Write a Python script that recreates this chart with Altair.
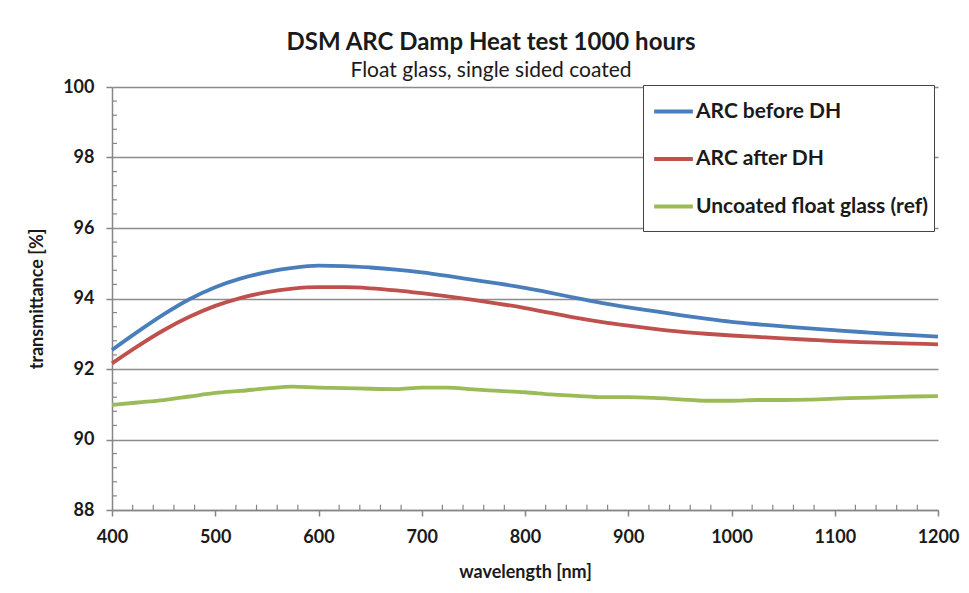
import altair as alt
import pandas as pd

wavelength = [400, 425, 450, 475, 500, 525, 550, 575, 600, 625, 650, 675, 700, 725, 750, 775,
              800, 825, 850, 875, 900, 925, 950, 975, 1000, 1025, 1050, 1075, 1100, 1125, 1150, 1175, 1200]

arc_before = [92.54, 93.06, 93.55, 93.98, 94.32, 94.57, 94.75, 94.87, 94.93, 94.92, 94.88, 94.82,
              94.74, 94.64, 94.53, 94.42, 94.30, 94.16, 94.01, 93.87, 93.75, 93.64, 93.53, 93.43,
              93.34, 93.27, 93.21, 93.15, 93.10, 93.05, 93.00, 92.96, 92.92]

arc_after = [92.16, 92.65, 93.10, 93.48, 93.79, 94.02, 94.18, 94.28, 94.32, 94.32, 94.29, 94.23,
             94.15, 94.06, 93.96, 93.85, 93.73, 93.59, 93.45, 93.33, 93.23, 93.14, 93.06, 93.00,
             92.95, 92.91, 92.87, 92.83, 92.79, 92.76, 92.74, 92.72, 92.70]

uncoated = [90.98, 91.05, 91.12, 91.22, 91.32, 91.38, 91.45, 91.50, 91.47, 91.46, 91.44, 91.43,
            91.47, 91.47, 91.42, 91.38, 91.34, 91.28, 91.24, 91.20, 91.20, 91.18, 91.14, 91.10,
            91.10, 91.12, 91.12, 91.13, 91.16, 91.18, 91.20, 91.22, 91.23]

series_names = ["ARC before DH", "ARC after DH", "Uncoated float glass (ref)"]
series_colors = ["#4a7ebb", "#c0504d", "#9bbb59"]

x_major_ticks = [400, 500, 600, 700, 800, 900, 1000, 1100, 1200]
x_minor_ticks = [v for v in range(400, 1201, 20) if v % 100 != 0]
y_major_ticks = [88, 90, 92, 94, 96, 98, 100]
y_minor_ticks = [88.4, 88.8, 89.2, 89.6, 90.4, 90.8, 91.2, 91.6, 92.4, 92.8, 93.2, 93.6,
                 94.4, 94.8, 95.2, 95.6, 96.4, 96.8, 97.2, 97.6, 98.4, 98.8, 99.2, 99.6]

rows = []
for name, vals in zip(series_names, [arc_before, arc_after, uncoated]):
    for w, v in zip(wavelength, vals):
        rows.append({"wavelength": w, "transmittance": v, "series": name})
df = pd.DataFrame(rows)

FONT = "Lato"
TXT = "#1a1a1a"
AX = "#868686"

xscale = alt.Scale(domain=[400, 1200], nice=False, zero=False)
yscale = alt.Scale(domain=[88, 100], nice=False, zero=False)

lines = alt.Chart(df).mark_line(strokeWidth=3.8, interpolate="monotone").encode(
    x=alt.X("wavelength:Q", scale=xscale,
            axis=alt.Axis(title="wavelength [nm]", values=x_major_ticks, grid=False,
                          format="d", labelFlush=False,
                          tickSize=6, labelPadding=12, titlePadding=17)),
    y=alt.Y("transmittance:Q", scale=yscale,
            axis=alt.Axis(title="transmittance [%]", values=y_major_ticks, grid=True,
                          format="d", labelFlush=False,
                          tickSize=6, labelPadding=12, titlePadding=16)),
    color=alt.Color("series:N",
                    scale=alt.Scale(domain=series_names, range=series_colors),
                    legend=alt.Legend(title=" ", titleOrient="bottom", titleFontSize=4,
                                      titlePadding=5,
                                      orient="none", legendX=531, legendY=-2,
                                      symbolType="stroke", symbolSize=1500,
                                      symbolStrokeWidth=3.8, symbolOffset=4,
                                      labelFont=FONT,
                                      labelFontSize=21, labelFontWeight="bold",
                                      labelColor=TXT, strokeColor="#444444",
                                      fillColor="white", padding=5, rowPadding=15.5,
                                      labelLimit=400, labelOffset=1)),
)

xminor = alt.Chart(pd.DataFrame({"wl": x_minor_ticks})).mark_rule(
    color=AX, strokeWidth=1.2).encode(
    x=alt.X("wl:Q"), y=alt.datum(88), y2=alt.datum(88.15))

yminor = alt.Chart(pd.DataFrame({"v": y_minor_ticks})).mark_rule(
    color=AX, strokeWidth=1.2).encode(
    y=alt.Y("v:Q"), x=alt.datum(400), x2=alt.datum(404.8))

chart = alt.layer(xminor, yminor, lines).properties(
    width=826, height=423,
    background="white",
    title=alt.Title("DSM ARC Damp Heat test 1000 hours",
                    subtitle="Float glass, single sided coated",
                    font=FONT, fontSize=24, fontWeight="bold", color=TXT,
                    subtitleFont=FONT, subtitleFontSize=21, subtitleColor=TXT,
                    anchor="middle", dx=-34, dy=11, offset=8, subtitlePadding=5),
    autosize=alt.AutoSizeParams(type="none"),
    padding={"left": 112, "top": 87, "right": 31, "bottom": 83},
).configure_axis(
    labelFont=FONT, labelFontSize=18, labelFontWeight="bold", labelColor=TXT,
    titleFont=FONT, titleFontSize=18, titleFontWeight="bold", titleColor=TXT,
    domainColor=AX, domainWidth=1.5, tickColor=AX, tickWidth=1.5,
    gridColor="#8c8c8c", gridWidth=1.3,
).configure_view(stroke=None)

chart.save("out.html", embed_options={"renderer": "svg", "actions": False})
